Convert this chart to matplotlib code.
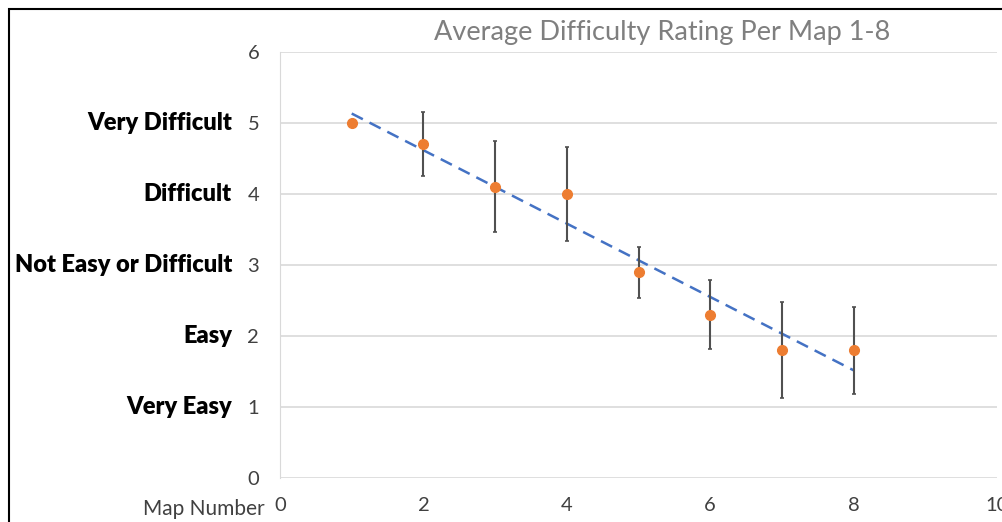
import numpy as np
import matplotlib
matplotlib.use("Agg")
from matplotlib import pyplot as plt
from matplotlib.patches import Rectangle

# data
map_number = [1, 2, 3, 4, 5, 6, 7, 8]
avg_rating = [5.0, 4.7, 4.1, 4.0, 2.9, 2.3, 1.8, 1.8]
rating_err = [0.0, 0.45, 0.64, 0.66, 0.36, 0.49, 0.68, 0.61]
rating_names = ["Very Easy", "Easy", "Not Easy or Difficult", "Difficult", "Very Difficult"]
rating_levels = [1, 2, 3, 4, 5]
x_ticks = [0, 2, 4, 6, 8, 10]
y_ticks = [0, 1, 2, 3, 4, 5, 6]

plt.rcParams['font.family'] = ['Lato', 'DejaVu Sans']

fig = plt.figure(figsize=(10.03, 5.22), dpi=100)
ax = fig.add_axes([280 / 1003, 1 - 478 / 522, 717 / 1003, 426 / 522])

# error bars first, then points on top
ax.errorbar(map_number, avg_rating, yerr=rating_err, fmt='none',
            ecolor='#505050', elinewidth=1.5, capsize=1.5, capthick=1.2, zorder=3)
ax.plot(map_number, avg_rating, 'o', color='#ED7D31', markersize=7, zorder=4)

# linear trend line
slope, intercept = np.polyfit(map_number, avg_rating, 1)
xs = np.array([map_number[0], map_number[-1]])
ax.plot(xs, slope * xs + intercept, linestyle=(0, (5, 3)), color='#4472C4',
        linewidth=1.8, zorder=2)

ax.set_xlim(0, 10)
ax.set_ylim(0, 6)
ax.set_xticks(x_ticks)
ax.set_yticks(y_ticks)
ax.grid(axis='y', color='#d9d9d9', linewidth=1.2)
ax.set_axisbelow(True)
for side in ['top', 'right', 'bottom']:
    ax.spines[side].set_visible(False)
ax.spines['left'].set_color('#d9d9d9')
ax.tick_params(length=0, labelsize=14.5, labelcolor='#404040')
ax.tick_params(axis='x', pad=14)
ax.tick_params(axis='y', pad=15)

# rating names next to the y tick numbers
for lvl, name in zip(rating_levels, rating_names):
    ax.text(-0.067, lvl, name, transform=ax.get_yaxis_transform(),
            ha='right', va='center', fontsize=17, fontweight='heavy', color='black')

ax.text(-0.021, -0.44, "Map Number", transform=ax.get_yaxis_transform(),
        ha='right', va='center', fontsize=15, color='#404040')

fig.text(0.66, 0.937, "Average Difficulty Rating Per Map 1-8",
         ha='center', va='center', fontsize=19.5, color='#7f7f7f')

# outer frame, cut off on the right and bottom
fig.patches.append(Rectangle((9 / 1003, -0.1), 1.2, 1.1 - 9 / 522,
                             transform=fig.transFigure, fill=False,
                             edgecolor='black', linewidth=1.5))

fig.savefig("out.png", dpi=100)
